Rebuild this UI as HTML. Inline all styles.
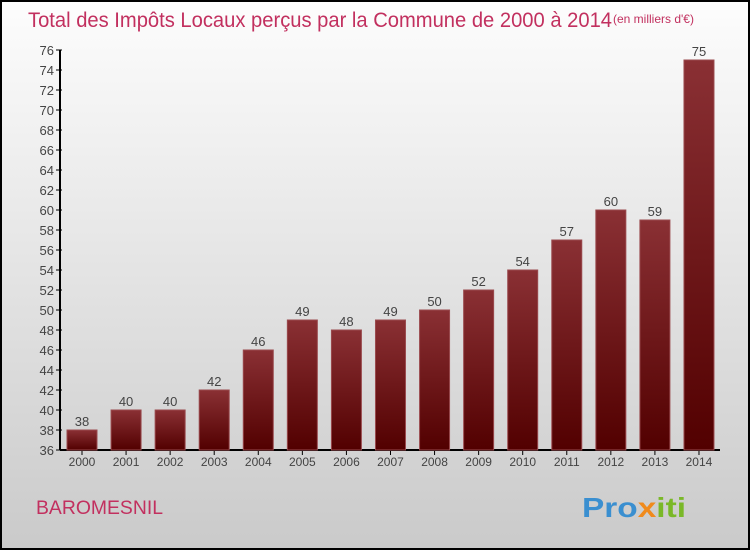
<!DOCTYPE html>
<html><head><meta charset="utf-8"><style>
body{margin:0;width:750px;height:550px;overflow:hidden}
svg{display:block;font-family:"Liberation Sans",sans-serif}
</style></head><body>
<svg width="750" height="550">
<defs>
<linearGradient id="bg" x1="0" y1="0" x2="0" y2="1"><stop offset="0" stop-color="#fdfdfd"/><stop offset="1" stop-color="#cacaca"/></linearGradient>
<linearGradient id="bar" x1="0" y1="0" x2="0" y2="1"><stop offset="0" stop-color="#8a3034"/><stop offset="1" stop-color="#520000"/></linearGradient>
</defs>
<rect x="1" y="1" width="748" height="548" fill="url(#bg)" stroke="#000" stroke-width="2"/>
<text x="28" y="27" font-size="21" fill="#c2305f" textLength="584" lengthAdjust="spacingAndGlyphs">Total des Impôts Locaux perçus par la Commune de 2000 à 2014</text>
<text x="613" y="23" font-size="12" fill="#c2305f">(en milliers d'€)</text>
<text x="36" y="514" font-size="19" fill="#c2305f" textLength="127" lengthAdjust="spacingAndGlyphs">BAROMESNIL</text>
<text x="582" y="517" font-size="28" font-weight="bold" textLength="104" lengthAdjust="spacingAndGlyphs"><tspan fill="#3a8fd0">Pro</tspan><tspan fill="#f08a1c">x</tspan><tspan fill="#7ab828">iti</tspan></text>
<g id="axes"></g><g id="bars"></g>
</svg>
<script>
const years=["2000","2001","2002","2003","2004","2005","2006","2007","2008","2009","2010","2011","2012","2013","2014"];
const values=[38,40,40,42,46,49,48,49,50,52,54,57,60,59,75];
const yTicks=[36,38,40,42,44,46,48,50,52,54,56,58,60,62,64,66,68,70,72,74,76];
const ns="http://www.w3.org/2000/svg";
const y=v=>450-(v-36)*10;
const x=i=>67+i*44.07;
function mk(t,a,p){const e=document.createElementNS(ns,t);for(const k in a)e.setAttribute(k,a[k]);p.appendChild(e);return e;}
const ax=document.getElementById('axes'),bg=document.getElementById('bars');
let l=mk('line',{x1:60,y1:50,x2:60,y2:450,stroke:'#000','stroke-width':2},ax);


l=mk('line',{x1:60,y1:450,x2:720,y2:450,stroke:'#000','stroke-width':2},ax);


yTicks.forEach(v=>{
 const t=mk('line',{x1:56,y1:y(v),x2:62,y2:y(v),stroke:'#000'},ax);
 
 
 const tx=mk('text',{x:54,y:y(v)+5,'text-anchor':'end','font-size':13,fill:'#444'},ax);
 tx.textContent=v;
 
 
});
years.forEach((yr,i)=>{
 const r=mk('rect',{x:x(i),y:y(values[i]),width:30,height:450-y(values[i]),fill:'url(#bar)',stroke:'#9a4a4e','stroke-width':1},bg);
 
 
 const vt=mk('text',{x:x(i)+15,y:y(values[i])-4,'text-anchor':'middle','font-size':13,fill:'#444'},bg);
 vt.textContent=values[i];
 
 
 const tk=mk('line',{x1:x(i)+15,y1:450,x2:x(i)+15,y2:455,stroke:'#000'},ax);
 
 
 const xt=mk('text',{x:x(i)+15,y:466,'text-anchor':'middle','font-size':12,fill:'#444'},ax);
 xt.textContent=yr;
 
 
});
</script>
</body></html>
